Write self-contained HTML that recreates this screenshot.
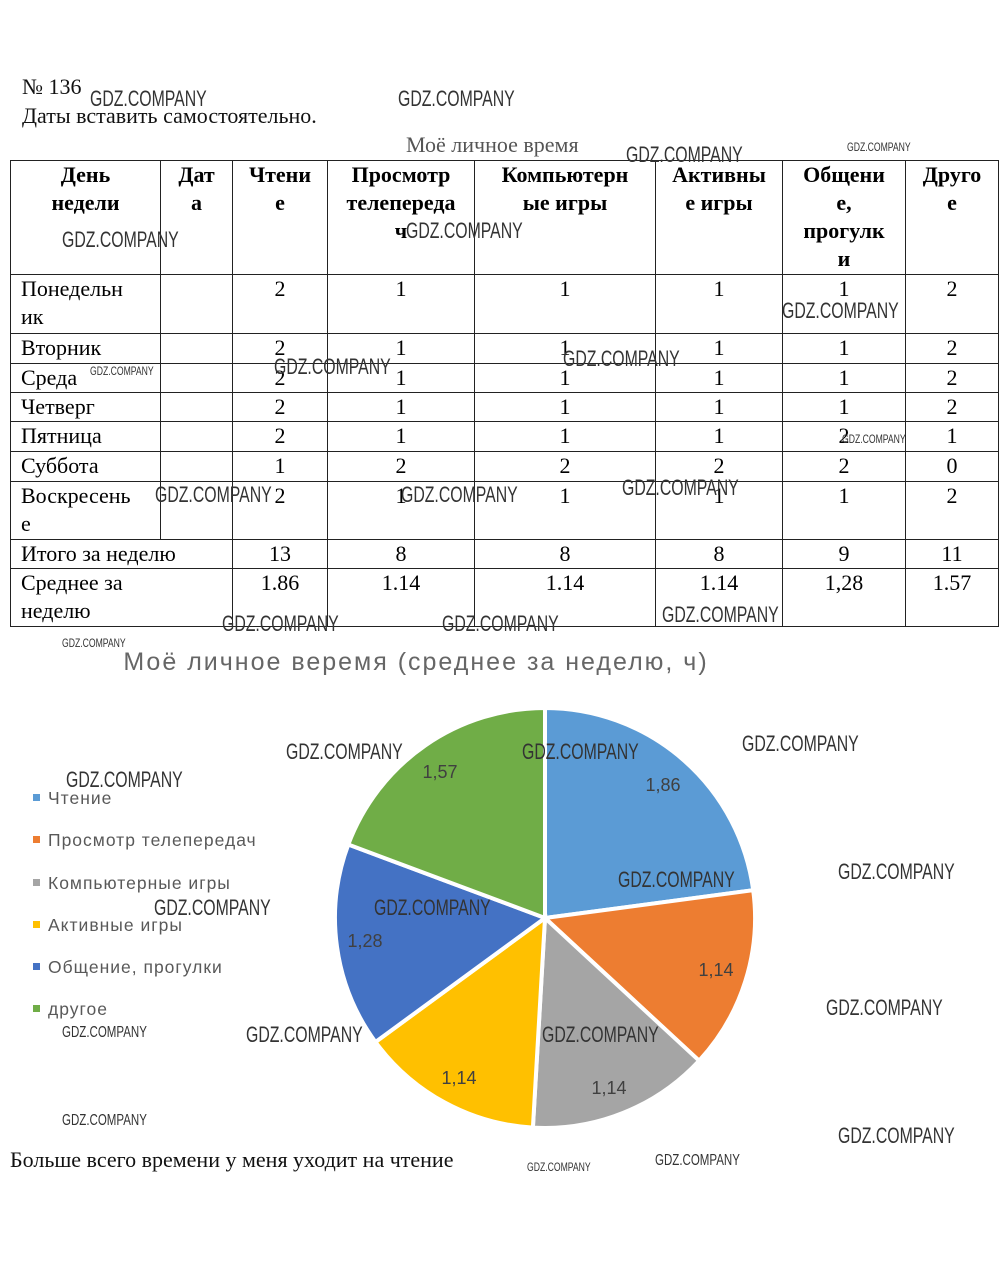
<!DOCTYPE html>
<html><head><meta charset="utf-8"><style>
body{margin:0;background:#fff;width:1006px;height:1271px;overflow:hidden;position:relative;font-family:"Liberation Serif","DejaVu Serif",serif}
.t{position:absolute;font-size:22px;color:#111;white-space:nowrap}
.wm{position:absolute;font-family:"Liberation Sans",sans-serif;color:#333;font-size:22px;transform:scaleX(0.72);transform-origin:left top;white-space:nowrap}
.wm.s{font-size:12px}
table{position:absolute;left:10px;top:160px;border-collapse:collapse;font-size:22px;line-height:28px}
td{border:1px solid #222;vertical-align:top;padding:0 0 0 10px}
td.c{text-align:center;padding:0}
th{border:1px solid #222;vertical-align:top;font-weight:bold;text-align:center;padding:0}
</style></head><body>
<div class="t" style="left:22px;top:74px">№ 136</div>
<div class="t" style="left:22px;top:103px">Даты вставить самостоятельно.</div>
<div class="t" style="left:406px;top:132px;color:#555">Моё личное время</div>
<table>
<colgroup><col style="width:150px"><col style="width:72px"><col style="width:95px"><col style="width:147px"><col style="width:181px"><col style="width:127px"><col style="width:123px"><col style="width:93px"></colgroup>
<tr style="height:114px"><th>День<br>недели</th><th>Дат<br>а</th><th>Чтени<br>е</th><th>Просмотр<br>телепереда<br>ч</th><th>Компьютерн<br>ые игры</th><th>Активны<br>е игры</th><th>Общени<br>е,<br>прогулк<br>и</th><th>Друго<br>е</th></tr>
<tr style="height:59px"><td>Понедельн<br>ик</td><td></td><td class="c">2</td><td class="c">1</td><td class="c">1</td><td class="c">1</td><td class="c">1</td><td class="c">2</td></tr>
<tr style="height:30px"><td>Вторник</td><td></td><td class="c">2</td><td class="c">1</td><td class="c">1</td><td class="c">1</td><td class="c">1</td><td class="c">2</td></tr>
<tr style="height:29px"><td>Среда</td><td></td><td class="c">2</td><td class="c">1</td><td class="c">1</td><td class="c">1</td><td class="c">1</td><td class="c">2</td></tr>
<tr style="height:29px"><td>Четверг</td><td></td><td class="c">2</td><td class="c">1</td><td class="c">1</td><td class="c">1</td><td class="c">1</td><td class="c">2</td></tr>
<tr style="height:30px"><td>Пятница</td><td></td><td class="c">2</td><td class="c">1</td><td class="c">1</td><td class="c">1</td><td class="c">2</td><td class="c">1</td></tr>
<tr style="height:30px"><td>Суббота</td><td></td><td class="c">1</td><td class="c">2</td><td class="c">2</td><td class="c">2</td><td class="c">2</td><td class="c">0</td></tr>
<tr style="height:58px"><td>Воскресень<br>е</td><td></td><td class="c">2</td><td class="c">1</td><td class="c">1</td><td class="c">1</td><td class="c">1</td><td class="c">2</td></tr>
<tr style="height:29px"><td colspan="2">Итого за неделю</td><td class="c">13</td><td class="c">8</td><td class="c">8</td><td class="c">8</td><td class="c">9</td><td class="c">11</td></tr>
<tr style="height:58px"><td colspan="2">Среднее за<br>неделю</td><td class="c">1.86</td><td class="c">1.14</td><td class="c">1.14</td><td class="c">1.14</td><td class="c">1,28</td><td class="c">1.57</td></tr>
</table>
<svg style="position:absolute;left:0;top:0" width="1006" height="1271">
<text x="416" y="670" font-family="Liberation Sans,sans-serif" font-size="25" letter-spacing="2" fill="#666" text-anchor="middle">Моё личное веремя (среднее за неделю, ч)</text>
<g stroke="#fff" stroke-width="4">
<path d="M545,918 L545,708 A210,210 0 0 1 753.2,890.2 Z" fill="#5B9BD5"/>
<path d="M545,918 L753.2,890.2 A210,210 0 0 1 699.1,1060.7 Z" fill="#ED7D31"/>
<path d="M545,918 L699.1,1060.7 A210,210 0 0 1 532.9,1127.6 Z" fill="#A5A5A5"/>
<path d="M545,918 L532.9,1127.6 A210,210 0 0 1 375.5,1042 Z" fill="#FFC000"/>
<path d="M545,918 L375.5,1042 A210,210 0 0 1 348.3,844.5 Z" fill="#4472C4"/>
<path d="M545,918 L348.3,844.5 A210,210 0 0 1 545,708 Z" fill="#70AD47"/>
</g>
<g font-family="Liberation Sans,sans-serif" font-size="18" fill="#404040" text-anchor="middle">
<text x="663" y="791">1,86</text><text x="716" y="976">1,14</text><text x="609" y="1094">1,14</text>
<text x="459" y="1084">1,14</text><text x="365" y="947">1,28</text><text x="440" y="778">1,57</text>
</g>
<g font-family="Liberation Sans,sans-serif" font-size="17.5" letter-spacing="1" fill="#595959">
<rect x="33" y="794" width="7" height="7" fill="#5B9BD5"/><text x="48" y="804">Чтение</text>
<rect x="33" y="836" width="7" height="7" fill="#ED7D31"/><text x="48" y="846">Просмотр телепередач</text>
<rect x="33" y="879" width="7" height="7" fill="#A5A5A5"/><text x="48" y="889">Компьютерные игры</text>
<rect x="33" y="921" width="7" height="7" fill="#FFC000"/><text x="48" y="931">Активные игры</text>
<rect x="33" y="963" width="7" height="7" fill="#4472C4"/><text x="48" y="973">Общение, прогулки</text>
<rect x="33" y="1005" width="7" height="7" fill="#70AD47"/><text x="48" y="1015">другое</text>
</g>
</svg>
<div class="t" style="left:10px;top:1147px">Больше всего времени у меня уходит на чтение</div>
<div class="wm" style="left:90px;top:86px">GDZ.COMPANY</div>
<div class="wm" style="left:398px;top:86px">GDZ.COMPANY</div>
<div class="wm" style="left:626px;top:142px">GDZ.COMPANY</div>
<div class="wm s" style="left:847px;top:140px">GDZ.COMPANY</div>
<div class="wm" style="left:62px;top:227px">GDZ.COMPANY</div>
<div class="wm" style="left:406px;top:218px">GDZ.COMPANY</div>
<div class="wm" style="left:782px;top:298px">GDZ.COMPANY</div>
<div class="wm" style="left:563px;top:346px">GDZ.COMPANY</div>
<div class="wm" style="left:274px;top:354px">GDZ.COMPANY</div>
<div class="wm s" style="left:90px;top:364px">GDZ.COMPANY</div>
<div class="wm s" style="left:842px;top:432px">GDZ.COMPANY</div>
<div class="wm" style="left:155px;top:482px">GDZ.COMPANY</div>
<div class="wm" style="left:401px;top:482px">GDZ.COMPANY</div>
<div class="wm" style="left:622px;top:475px">GDZ.COMPANY</div>
<div class="wm" style="left:222px;top:611px">GDZ.COMPANY</div>
<div class="wm" style="left:442px;top:611px">GDZ.COMPANY</div>
<div class="wm" style="left:662px;top:602px">GDZ.COMPANY</div>
<div class="wm s" style="left:62px;top:636px">GDZ.COMPANY</div>
<div class="wm" style="left:286px;top:739px">GDZ.COMPANY</div>
<div class="wm" style="left:522px;top:739px">GDZ.COMPANY</div>
<div class="wm" style="left:742px;top:731px">GDZ.COMPANY</div>
<div class="wm" style="left:66px;top:767px">GDZ.COMPANY</div>
<div class="wm" style="left:618px;top:867px">GDZ.COMPANY</div>
<div class="wm" style="left:838px;top:859px">GDZ.COMPANY</div>
<div class="wm" style="left:154px;top:895px">GDZ.COMPANY</div>
<div class="wm" style="left:374px;top:895px">GDZ.COMPANY</div>
<div class="wm" style="left:826px;top:995px">GDZ.COMPANY</div>
<div class="wm" style="left:246px;top:1022px">GDZ.COMPANY</div>
<div class="wm" style="left:542px;top:1022px">GDZ.COMPANY</div>
<div class="wm" style="left:838px;top:1123px">GDZ.COMPANY</div>
<div class="wm s" style="left:62px;top:1024px;font-size:16px">GDZ.COMPANY</div>
<div class="wm s" style="left:62px;top:1112px;font-size:16px">GDZ.COMPANY</div>
<div class="wm s" style="left:655px;top:1152px;font-size:16px">GDZ.COMPANY</div>
<div class="wm s" style="left:527px;top:1160px">GDZ.COMPANY</div>
</body></html>
